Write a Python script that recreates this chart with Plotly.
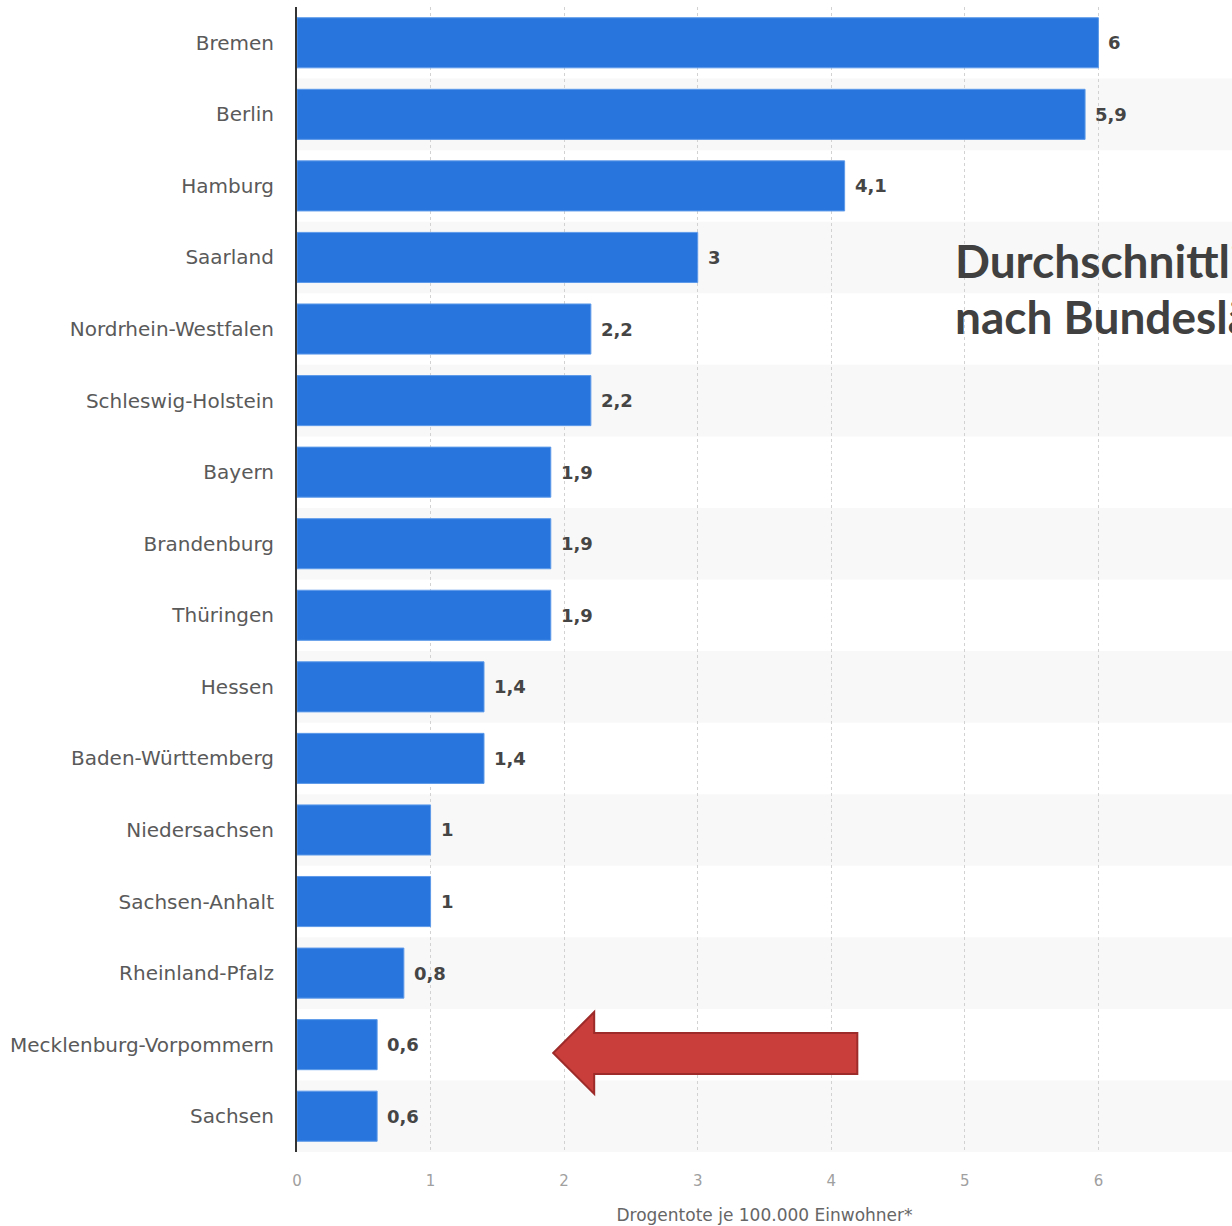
import plotly.graph_objects as go

# Drug-related deaths per 100,000 inhabitants by German federal state
states = [
    "Bremen", "Berlin", "Hamburg", "Saarland", "Nordrhein-Westfalen",
    "Schleswig-Holstein", "Bayern", "Brandenburg", "Thüringen", "Hessen",
    "Baden-Württemberg", "Niedersachsen", "Sachsen-Anhalt", "Rheinland-Pfalz",
    "Mecklenburg-Vorpommern", "Sachsen",
]
deaths_per_100k = [6, 5.9, 4.1, 3, 2.2, 2.2, 1.9, 1.9, 1.9, 1.4, 1.4, 1, 1, 0.8, 0.6, 0.6]
x_ticks = [0, 1, 2, 3, 4, 5, 6, 7]


def de_number(v):
    s = f"{v:g}"
    return s.replace(".", ",")


value_labels = [de_number(v) for v in deaths_per_100k]

BAR_COLOR = "#2876dd"
LABEL_FONT = "DejaVu Sans"

fig = go.Figure()
fig.add_trace(go.Bar(
    x=deaths_per_100k,
    y=states,
    orientation="h",
    marker=dict(color=BAR_COLOR, line=dict(color="#5d9ae9", width=1)),
    hoverinfo="x+y",
))

# value labels just past each bar end
for name, v, lab in zip(states, deaths_per_100k, value_labels):
    fig.add_annotation(
        x=v, y=name, xref="x", yref="y", text=f"<b>{lab}</b>",
        showarrow=False, xanchor="left", yanchor="middle", xshift=8,
        font=dict(family=LABEL_FONT, size=18, color="#454545"),
    )

# alternating light row bands
for i in range(1, len(states), 2):
    fig.add_shape(
        type="rect", xref="paper", yref="y", x0=0, x1=1, y0=i - 0.5, y1=i + 0.5,
        fillcolor="#f8f8f8", line=dict(width=0), layer="below",
    )

# red arrow pointing left toward the lower rows
arrow_pts = [
    (1.918, 0.0865), (2.225, 0.1223), (2.225, 0.1039), (4.195, 0.1039),
    (4.195, 0.0681), (2.225, 0.0681), (2.225, 0.0507),
]
path = "M " + " L ".join(f"{x},{y}" for x, y in arrow_pts) + " Z"
fig.add_shape(
    type="path", xref="x", yref="paper", path=path,
    fillcolor="#c93d3a", line=dict(color="#9c2b29", width=2), layer="above",
)

# heading text that runs off the right edge
title_font = dict(family="Lato", size=46, color="#404040", weight=700)
fig.add_annotation(
    xref="paper", yref="paper", x=(953 - 297) / 935, y=(1152 - 260) / 1145,
    text="Durchschnittliche Zahl der Drogentoten", showarrow=False,
    xanchor="left", yanchor="middle", font=title_font,
)
fig.add_annotation(
    xref="paper", yref="paper", x=(953 - 297) / 935, y=(1152 - 317) / 1145,
    text="nach Bundesländern", showarrow=False,
    xanchor="left", yanchor="middle", font=title_font,
)

fig.update_layout(
    width=1232, height=1226,
    margin=dict(l=297, r=0, t=7, b=74),
    paper_bgcolor="white", plot_bgcolor="white",
    bargap=0.3, showlegend=False,
    xaxis=dict(
        range=[0, 7], tickvals=x_ticks, ticktext=[str(t) for t in x_ticks],
        showgrid=True, gridcolor="#d2d2d2", griddash="dot", gridwidth=1,
        zeroline=False, showline=False, ticks="", ticklabelstandoff=18,
        tickfont=dict(family="DejaVu Sans", size=15, color="#a0a0a0"),
        title=dict(text="Drogentote je 100.000 Einwohner*", standoff=20,
                   font=dict(family=LABEL_FONT, size=17, color="#666666")),
        fixedrange=True,
    ),
    yaxis=dict(
        categoryorder="array", categoryarray=states, autorange="reversed",
        showline=True, linecolor="#333333", linewidth=2, showgrid=False,
        ticks="", ticklabelstandoff=17,
        tickfont=dict(family=LABEL_FONT, size=20, color="#5a5a5a"),
        fixedrange=True,
    ),
)

fig.write_html("out.html")
